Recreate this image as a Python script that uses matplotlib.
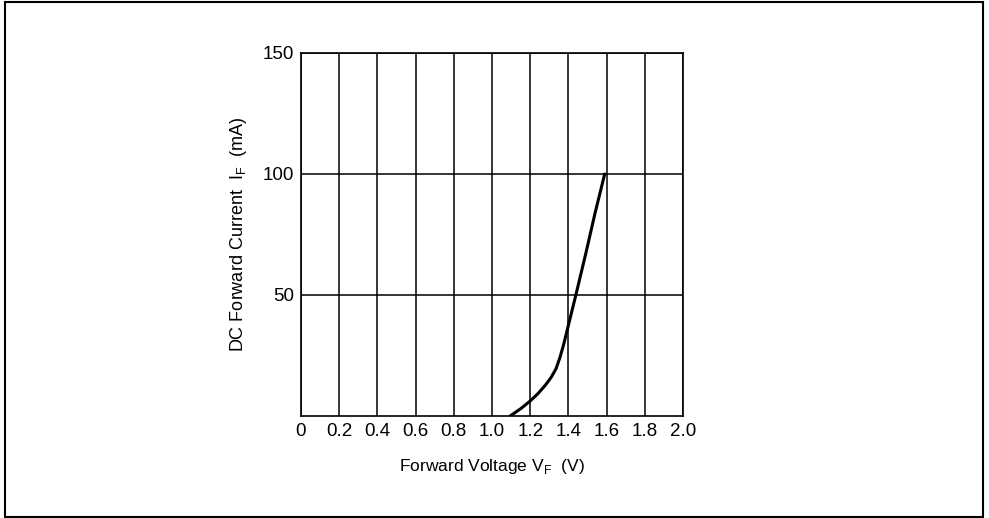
import matplotlib.pyplot as plt
from matplotlib.patches import Rectangle
from matplotlib import font_manager

vf = [1.095, 1.15, 1.20, 1.24, 1.28, 1.31, 1.335, 1.355, 1.375, 1.40, 1.44, 1.49, 1.54, 1.59]
i_f = [0, 3, 6.2, 9.2, 12.8, 16, 19.5, 24, 29.5, 37.5, 50.3, 66.8, 84, 100]

x_ticks = [0, 0.2, 0.4, 0.6, 0.8, 1.0, 1.2, 1.4, 1.6, 1.8, 2.0]
x_labels = ['0', '0.2', '0.4', '0.6', '0.8', '1.0', '1.2', '1.4', '1.6', '1.8', '2.0']
y_ticks = [50, 100, 150]

nomes = [f.name for f in font_manager.fontManager.ttflist]
fonte = 'Liberation Sans Narrow' if 'Liberation Sans Narrow' in nomes else 'Liberation Sans'
plt.rcParams['font.family'] = [fonte, 'DejaVu Sans']

fig = plt.figure(figsize=(9.89, 5.18), dpi=100)
fig.patches.append(Rectangle((5 / 989, 1 / 518), 978 / 989, 515 / 518, transform=fig.transFigure,
                             fill=False, edgecolor='black', linewidth=1.5))

ax = fig.add_axes([301 / 989, 1 - 416 / 518, 382 / 989, 363 / 518])
ax.plot(vf, i_f, color='black', linewidth=2.2, solid_capstyle='round', solid_joinstyle='round')
ax.set_xlim(0, 2.0)
ax.set_ylim(0, 150)
ax.set_xticks(x_ticks)
ax.set_xticklabels(x_labels)
ax.set_yticks(y_ticks)
ax.tick_params(length=0, labelsize=13.5, pad=5)
ax.grid(True, color='black', linewidth=1.1)
ax.set_axisbelow(True)
for s in ax.spines.values():
    s.set_linewidth(1.2)

ax.set_xlabel('Forward Voltage V$_\\mathregular{F}$  (V)', fontsize=12.5, labelpad=12)
ax.set_ylabel('DC Forward Current  I$_\\mathregular{F}$  (mA)', fontsize=13, labelpad=10)

plt.savefig('out.png', dpi=100)
